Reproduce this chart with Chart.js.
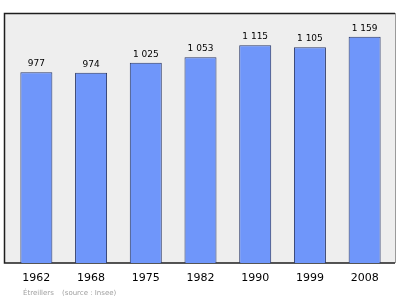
<!DOCTYPE html>
<html>
<head>
<meta charset="utf-8">
<script src="https://cdn.jsdelivr.net/npm/chart.js@4"></script>
<style>
  html, body { margin: 0; padding: 0; background: #ffffff; }
  #wrap { width: 400px; height: 299px; }
</style>
</head>
<body>
<div id="wrap"><canvas id="myChart" width="400" height="299"></canvas></div>
<script>
// Population par année de recensement
const years = ['1962', '1968', '1975', '1982', '1990', '1999', '2008'];
const population = [977, 974, 1025, 1053, 1115, 1105, 1159];
const valueLabels = ['977', '974', '1 025', '1 053', '1 115', '1 105', '1 159'];
const footerLeft = 'Étreillers';
const footerRight = '(source : Insee)';

// cadre gris derrière les barres
const framePlugin = {
    id: 'frame',
    beforeDatasetsDraw(chart) {
        const { ctx, chartArea } = chart;
        const l = chartArea.left - 5, r = chartArea.right + 3;
        const t = chartArea.top, b = chartArea.bottom;
        ctx.save();
        ctx.fillStyle = '#eeeeee';
        ctx.fillRect(l, t, r - l, b - t);
        ctx.lineWidth = 1;
        ctx.strokeStyle = '#9a9a9a';
        ctx.beginPath();
        ctx.moveTo(r + 0.5, t);
        ctx.lineTo(r + 0.5, b);
        ctx.stroke();
        ctx.strokeStyle = '#1e1e1e';
        ctx.lineWidth = 1.5;
        ctx.beginPath();
        ctx.moveTo(r, t + 0.5);
        ctx.lineTo(l + 0.5, t + 0.5);
        ctx.lineTo(l + 0.5, b);
        ctx.lineTo(r, b);
        ctx.stroke();
        ctx.restore();
    },
    afterDraw(chart) {
        const { ctx } = chart;
        ctx.save();
        ctx.fillStyle = '#a0a0a0';
        ctx.font = '7px "DejaVu Sans"';
        ctx.textBaseline = 'middle';
        ctx.fillText(footerLeft, 23, 293);
        ctx.fillText(footerRight, 62, 293);
        ctx.restore();
    }
};

// valeurs au-dessus des barres
const valuesPlugin = {
    id: 'values',
    afterDatasetsDraw(chart) {
        const { ctx } = chart;
        const meta = chart.getDatasetMeta(0);
        ctx.save();
        ctx.fillStyle = '#000000';
        ctx.font = '9px "DejaVu Sans"';
        ctx.textAlign = 'center';
        ctx.textBaseline = 'alphabetic';
        meta.data.forEach((bar, i) => {
            ctx.fillText(valueLabels[i], bar.x, bar.y - 6);
        });
        ctx.restore();
    }
};

const ctx = document.getElementById('myChart').getContext('2d');
new Chart(ctx, {
    type: 'bar',
    data: {
        labels: years,
        datasets: [{
            data: population,
            backgroundColor: '#6f96fa',
            borderColor: '#2a3868',
            borderWidth: 1,
            borderSkipped: 'bottom',
            barPercentage: 0.585,
            categoryPercentage: 1.0
        }]
    },
    options: {
        responsive: false,
        animation: false,
        layout: { padding: { left: 9, right: 8, top: 13, bottom: 0 } },
        plugins: {
            legend: { display: false },
            tooltip: { enabled: false }
        },
        scales: {
            y: {
                display: false,
                min: 0,
                max: 1280
            },
            x: {
                grid: { display: false, drawTicks: false },
                border: { display: false },
                ticks: {
                    color: '#000000',
                    font: { family: 'DejaVu Sans', size: 11 },
                    padding: 9
                },
                afterFit(scale) { scale.height = 36; }
            }
        }
    },
    plugins: [framePlugin, valuesPlugin]
});
</script>
</body>
</html>
